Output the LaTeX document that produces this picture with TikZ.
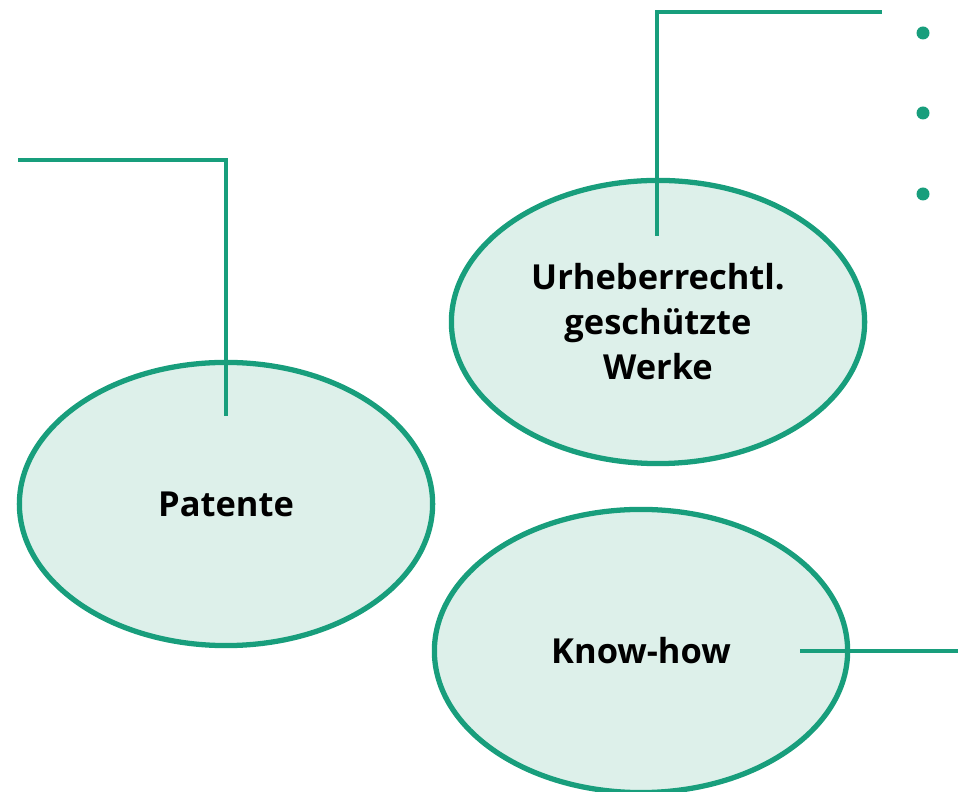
\documentclass[tikz,border=0pt]{standalone}
\usepackage{fontspec}
\setsansfont{Open Sans}
\usetikzlibrary{shapes.geometric}
\definecolor{teal}{RGB}{24,158,124}
\definecolor{mint}{RGB}{221,240,234}
\begin{document}
\begin{tikzpicture}[x=0.01cm, y=-0.01cm, font=\sffamily\bfseries\fontsize{9.8}{12.8}\selectfont, every node/.style={align=center, inner sep=0pt}, field/.style={ellipse, draw=teal, fill=mint, line width=1.5pt, minimum width=4.13cm, minimum height=2.83cm}, link/.style={teal, line width=1.4pt, line cap=rect}, dot/.style={circle, fill=teal, minimum size=0.13cm}]
	\useasboundingbox (0, 0) rectangle (958, 792);
	
	% Felder
	\node[field] (patente) at (226, 504) {Patente};
	\node[field] (werke) at (658, 322) {Urheberrechtl.\\geschützte\\Werke};
	\node[field] (knowhow) at (641, 651) {Know-how};
	
	% Aufzaehlung
	\node[dot] (dot1) at (923, 33) {};
	\node[dot] (dot2) at (923, 113) {};
	\node[dot] (dot3) at (923, 194) {};
	
	% Verbindungen
	\coordinate (patente-in) at (226, 414);
	\coordinate (patente-knick) at (226, 160);
	\coordinate (patente-end) at (20, 160);
	\coordinate (werke-in) at (657, 234);
	\coordinate (werke-knick) at (657, 12);
	\coordinate (werke-end) at (880, 12);
	\coordinate (knowhow-in) at (800, 651);
	\coordinate (knowhow-end) at (958, 651);
	\draw[link] (patente-in) -- (patente-knick) -- (patente-end);
	\draw[link] (werke-in) -- (werke-knick) -- (werke-end);
	\draw[link, line cap=butt] (knowhow-in) -- (knowhow-end);
\end{tikzpicture}
\end{document}
